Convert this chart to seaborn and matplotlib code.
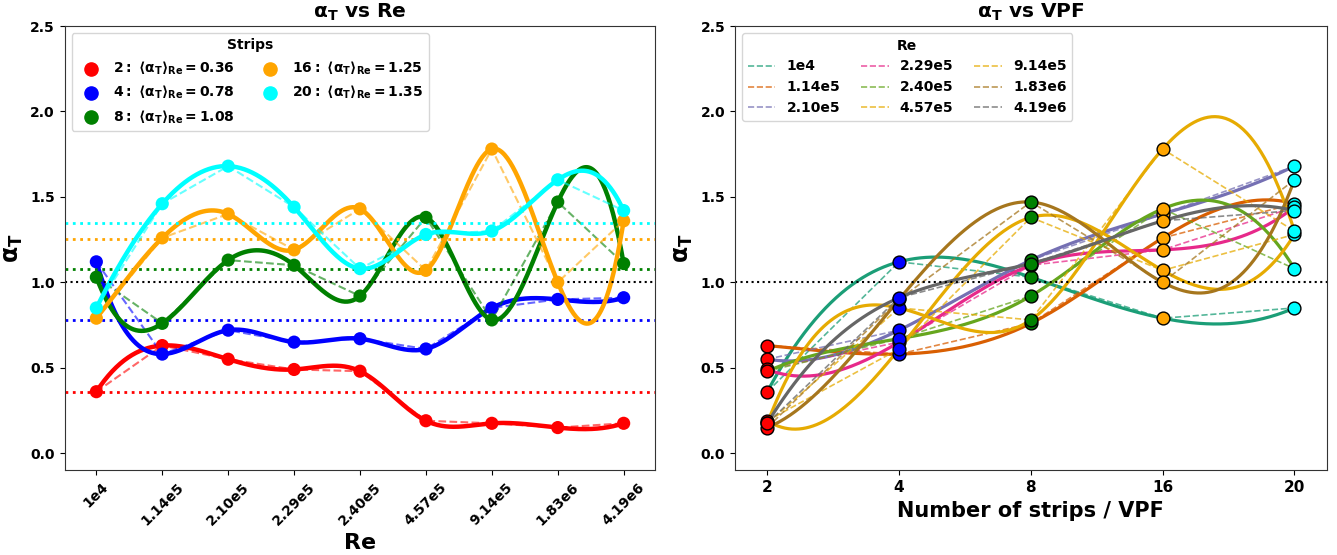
import numpy as np
import pandas as pd
import matplotlib
matplotlib.use("Agg")
import matplotlib.pyplot as plt
import seaborn as sns

re_labels = ["1e4", "1.14e5", "2.10e5", "2.29e5", "2.40e5", "4.57e5", "9.14e5", "1.83e6", "4.19e6"]
strips = [2, 4, 8, 16, 20]
alpha_s2 = [0.36, 0.63, 0.55, 0.49, 0.48, 0.19, 0.175, 0.15, 0.175]
alpha_s4 = [1.12, 0.58, 0.72, 0.65, 0.67, 0.61, 0.85, 0.90, 0.91]
alpha_s8 = [1.03, 0.76, 1.13, 1.10, 0.92, 1.38, 0.78, 1.47, 1.11]
alpha_s16 = [0.79, 1.26, 1.40, 1.19, 1.43, 1.07, 1.78, 1.00, 1.36]
alpha_s20 = [0.85, 1.46, 1.68, 1.44, 1.08, 1.28, 1.30, 1.60, 1.42]
strip_colors = ["red", "blue", "green", "orange", "cyan"]
re_colors = ["#1b9e77", "#d95f02", "#7570b3", "#e7298a", "#66a61e",
             "#e6ab02", "#e6ab02", "#a6761d", "#666666"]

alpha_by_strip = [alpha_s2, alpha_s4, alpha_s8, alpha_s16, alpha_s20]


def nak_spline(x, y, xs):
    x = np.asarray(x, float)
    y = np.asarray(y, float)
    knots = x[2:-2]

    def basis(t):
        t = np.atleast_1d(np.asarray(t, float))
        cols = [np.ones_like(t), t, t ** 2, t ** 3] + [np.clip(t - k, 0, None) ** 3 for k in knots]
        return np.column_stack(cols)

    coef = np.linalg.solve(basis(x), y)
    return basis(xs) @ coef


sns.set_style("ticks")
plt.rcParams['font.family'] = ['DejaVu Sans']
plt.rcParams['mathtext.default'] = 'bf'
plt.rcParams['text.color'] = 'black'
plt.rcParams['axes.labelcolor'] = 'black'
plt.rcParams['xtick.color'] = 'black'
plt.rcParams['ytick.color'] = 'black'
plt.rcParams['axes.edgecolor'] = '#333333'

fig = plt.figure(figsize=(13.37, 5.55), dpi=100)
H = 555.0
W = 1337.0
ax1 = fig.add_axes([64.7 / W, (H - 470.3) / H, (655.3 - 64.7) / W, (470.3 - 26) / H])
ax2 = fig.add_axes([735 / W, (H - 470.3) / H, (1326.7 - 735) / W, (470.3 - 26) / H])

# long-form data
rows = []
for si, s in enumerate(strips):
    for ri, r in enumerate(re_labels):
        rows.append(dict(strip=s, strip_idx=si, Re=r, re_idx=ri, alpha=alpha_by_strip[si][ri]))
df = pd.DataFrame(rows)

# ---- Left panel ----
xi = np.arange(len(re_labels))
xs = np.linspace(0, len(re_labels) - 1, 400)
handles = []
for si, s in enumerate(strips):
    sub = df[df.strip == s]
    c = strip_colors[si]
    sns.lineplot(data=sub, x="re_idx", y="alpha", ax=ax1, color=c, linestyle="--",
                 linewidth=1.5, alpha=0.6, legend=False)
    ax1.plot(xs, nak_spline(xi, sub.alpha.values, xs), color=c, linewidth=3.2)
    sns.scatterplot(data=sub, x="re_idx", y="alpha", ax=ax1, color=c, s=90,
                    edgecolor="none", legend=False, zorder=5)
    m = sub.alpha.mean()
    ax1.axhline(m, color=c, linestyle=":", linewidth=2)
    h = ax1.scatter([], [], color=c, s=90,
                    label=r"$\mathbf{%d:\ \langle\alpha_T\rangle_{Re}=%.2f}$" % (s, m))
    handles.append(h)
ax1.axhline(1.0, color="black", linestyle=":", linewidth=1.5)
ax1.set_xlim(-0.48, 8.48)
ax1.set_ylim(-0.1, 2.5)
ax1.set_xticks(xi)
ax1.set_xticklabels(re_labels, rotation=45, fontweight="bold", fontsize=10)
ax1.set_yticks([0, 0.5, 1.0, 1.5, 2.0, 2.5])
ax1.set_yticklabels(["0.0", "0.5", "1.0", "1.5", "2.0", "2.5"], fontweight="bold", fontsize=10)
ax1.set_xlabel("Re", fontsize=16, fontweight="bold")
ax1.set_ylabel(r"$\mathbf{\alpha_T}$", fontsize=17, fontweight="bold")
ax1.set_title(r"$\mathbf{\alpha_T}$ vs Re", fontsize=14.5, fontweight="bold")
leg1 = ax1.legend(handles=handles, title="Strips", ncol=2, loc="upper left",
                  prop={"weight": "bold", "size": 10}, title_fontproperties={"weight": "bold", "size": 10},
                  handletextpad=0.6, columnspacing=1.5)

# ---- Right panel ----
sx = np.arange(len(strips))
sxs = np.linspace(0, len(strips) - 1, 300)
lhandles = []
for ri, r in enumerate(re_labels):
    sub = df[df.Re == r].sort_values("strip_idx")
    c = re_colors[ri]
    sns.lineplot(data=sub, x="strip_idx", y="alpha", ax=ax2, color=c, linestyle="--",
                 linewidth=1.2, alpha=0.75, legend=False)
    ax2.plot(sxs, nak_spline(sx, sub.alpha.values, sxs), color=c, linewidth=2.3)
    lh, = ax2.plot([], [], color=c, linestyle="--", linewidth=1.2, alpha=0.75, label=r)
    lhandles.append(lh)
for si, s in enumerate(strips):
    sub = df[df.strip == s]
    sns.scatterplot(data=sub, x="strip_idx", y="alpha", ax=ax2, color=strip_colors[si], s=85,
                    edgecolor="black", linewidth=1.0, legend=False, zorder=5)
ax2.axhline(1.0, color="black", linestyle=":", linewidth=1.5)
ax2.set_xlim(-0.245, 4.245)
ax2.set_ylim(-0.1, 2.5)
ax2.set_xticks(sx)
ax2.set_xticklabels([str(s) for s in strips], fontweight="bold", fontsize=11)
ax2.set_yticks([0, 0.5, 1.0, 1.5, 2.0, 2.5])
ax2.set_yticklabels(["0.0", "0.5", "1.0", "1.5", "2.0", "2.5"], fontweight="bold", fontsize=10)
ax2.set_xlabel("Number of strips / VPF", fontsize=15, fontweight="bold")
ax2.set_ylabel(r"$\mathbf{\alpha_T}$", fontsize=17, fontweight="bold")
ax2.set_title(r"$\mathbf{\alpha_T}$ vs VPF", fontsize=14.5, fontweight="bold")
ax2.legend(handles=lhandles, title="Re", ncol=3, loc="upper left",
           prop={"weight": "bold", "size": 10}, title_fontproperties={"weight": "bold", "size": 10},
           columnspacing=1.5)

fig.savefig("out.png", dpi=100)
